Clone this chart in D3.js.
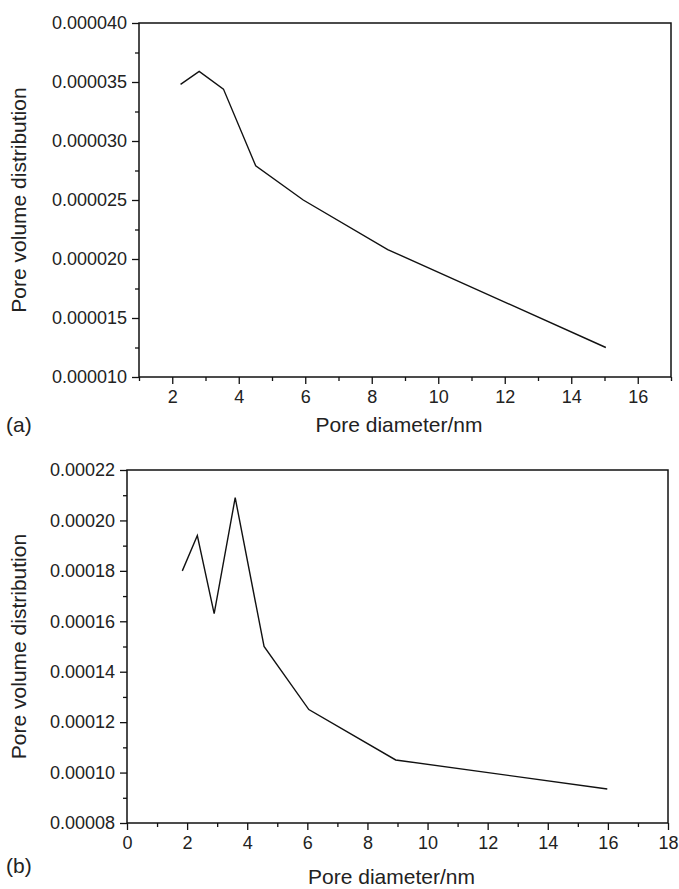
<!DOCTYPE html>
<html><head><meta charset="utf-8">
<script src="https://cdn.jsdelivr.net/npm/d3@7"></script>
<style>
body{margin:0;background:#fff;}
svg{display:block;font-family:"Liberation Sans",Arial,sans-serif;}
</style></head>
<body>
<svg id="chart" width="679" height="889"></svg>
<script>
// Panel (a)
const diamA = [2.25, 2.81, 3.54, 4.51, 5.94, 8.48, 15.04];
const volA  = [0.0000348, 0.0000359, 0.0000344, 0.0000279, 0.0000250, 0.0000208, 0.0000125];
const xTicksA = [2, 4, 6, 8, 10, 12, 14, 16];
const xMinorA = [1, 3, 5, 7, 9, 11, 13, 15, 17];
const yTicksA = [0.000010, 0.000015, 0.000020, 0.000025, 0.000030, 0.000035, 0.000040];
const yMinorA = [0.0000125, 0.0000175, 0.0000225, 0.0000275, 0.0000325, 0.0000375];

// Panel (b)
const diamB = [1.84, 2.34, 2.90, 3.60, 4.56, 6.05, 8.94, 15.98];
const volB  = [0.000180, 0.000194, 0.000163, 0.000209, 0.000150, 0.000125, 0.000105, 0.0000935];
const xTicksB = [0, 2, 4, 6, 8, 10, 12, 14, 16, 18];
const xMinorB = [1, 3, 5, 7, 9, 11, 13, 15, 17];
const yTicksB = [0.00008, 0.00010, 0.00012, 0.00014, 0.00016, 0.00018, 0.00020, 0.00022];
const yMinorB = [0.00009, 0.00011, 0.00013, 0.00015, 0.00017, 0.00019, 0.00021];

const xTitle = "Pore diameter/nm";
const yTitle = "Pore volume distribution";

const svg = d3.select("#chart");

function panel(cfg){
  const x = d3.scaleLinear().domain(cfg.xDomain).range([cfg.left, cfg.right]);
  const y = d3.scaleLinear().domain(cfg.yDomain).range([cfg.bottom, cfg.top]);
  const g = svg.append("g");

  // frame
  g.append("rect").attr("x", cfg.left).attr("y", cfg.top)
    .attr("width", cfg.right - cfg.left).attr("height", cfg.bottom - cfg.top)
    .attr("fill", "none").attr("stroke", "#111").attr("stroke-width", 1.5);

  // x axis major
  const xa = g.append("g").attr("transform", `translate(0,${cfg.bottom})`)
    .call(d3.axisBottom(x).tickValues(cfg.xTicks).tickSize(7).tickPadding(6).tickFormat(d3.format("d")));
  xa.select(".domain").remove();
  xa.selectAll("line").attr("stroke", "#111").attr("stroke-width", 1.3);
  xa.selectAll("text").attr("font-size", 18).attr("fill", "#222");
  const xm = g.append("g").attr("transform", `translate(0,${cfg.bottom})`)
    .call(d3.axisBottom(x).tickValues(cfg.xMinor).tickSize(4).tickFormat(""));
  xm.select(".domain").remove();
  xm.selectAll("line").attr("stroke", "#111").attr("stroke-width", 1.3);

  // y axis major
  const ya = g.append("g").attr("transform", `translate(${cfg.left},0)`)
    .call(d3.axisLeft(y).tickValues(cfg.yTicks).tickSize(7).tickPadding(5).tickFormat(d3.format(cfg.yFmt)));
  ya.select(".domain").remove();
  ya.selectAll("line").attr("stroke", "#111").attr("stroke-width", 1.3);
  ya.selectAll("text").attr("font-size", 18).attr("fill", "#222");
  const ym = g.append("g").attr("transform", `translate(${cfg.left},0)`)
    .call(d3.axisLeft(y).tickValues(cfg.yMinor).tickSize(4).tickFormat(""));
  ym.select(".domain").remove();
  ym.selectAll("line").attr("stroke", "#111").attr("stroke-width", 1.3);

  // data line
  const pts = cfg.xs.map((d, i) => [d, cfg.ys[i]]);
  g.append("path").datum(pts)
    .attr("d", d3.line().x(d => x(d[0])).y(d => y(d[1])))
    .attr("fill", "none").attr("stroke", "#111").attr("stroke-width", 1.4);

  // titles
  g.append("text").attr("x", (cfg.left + cfg.right) / 2 - 6).attr("y", cfg.xTitleY)
    .attr("text-anchor", "middle").attr("font-size", 21).attr("fill", "#222").text(xTitle);
  g.append("text").attr("transform", `translate(${cfg.yTitleX},${(cfg.top + cfg.bottom) / 2}) rotate(-90)`)
    .attr("text-anchor", "middle").attr("font-size", 21).attr("fill", "#222").text(yTitle);
  g.append("text").attr("x", 6).attr("y", cfg.tagY).attr("font-size", 21).attr("fill", "#222").text(cfg.tag);
}

panel({
  xDomain: [1, 17], yDomain: [0.000010, 0.000040],
  left: 139, right: 671, top: 23, bottom: 377,
  xTicks: xTicksA, xMinor: xMinorA, yTicks: yTicksA, yMinor: yMinorA,
  yFmt: ".6f", xs: diamA, ys: volA, xTitleY: 432, tagY: 432, yTitleX: 26, tag: "(a)"
});
panel({
  xDomain: [0, 18], yDomain: [0.00008, 0.00022],
  left: 127, right: 668, top: 470, bottom: 823,
  xTicks: xTicksB, xMinor: xMinorB, yTicks: yTicksB, yMinor: yMinorB,
  yFmt: ".5f", xs: diamB, ys: volB, xTitleY: 884, tagY: 873, yTitleX: 26, tag: "(b)"
});
</script>
</body></html>
